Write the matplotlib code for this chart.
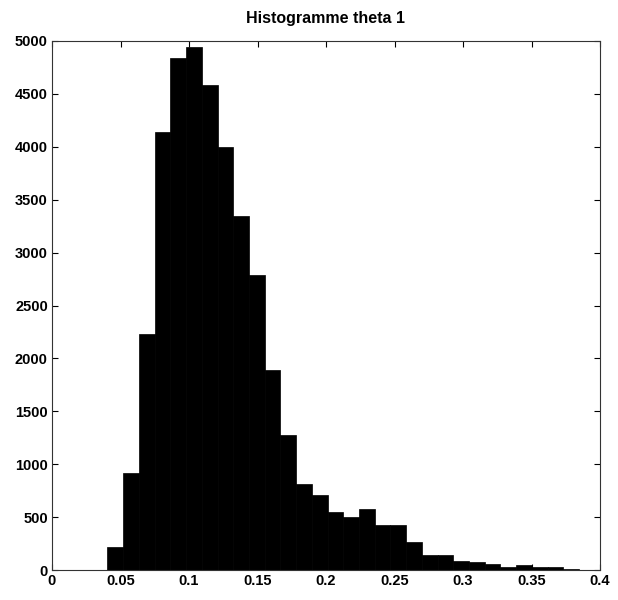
import numpy as np
import matplotlib
matplotlib.use("Agg")
import matplotlib.pyplot as plt

plt.rcParams['font.family'] = ['Liberation Sans', 'DejaVu Sans']

title = "Histogramme theta 1"
bin_lo = 0.0405
bin_hi = 0.3847
counts = [220, 920, 2230, 4140, 4840, 4945, 4580, 3995, 3350, 2790,
          1890, 1280, 815, 710, 545, 500, 575, 425, 425, 268,
          140, 140, 85, 72, 52, 30, 44, 30, 30, 14]
xticks = [0, 0.05, 0.1, 0.15, 0.2, 0.25, 0.3, 0.35, 0.4]
xticklabels = ["0", "0.05", "0.1", "0.15", "0.2", "0.25", "0.3", "0.35", "0.4"]
yticks = [0, 500, 1000, 1500, 2000, 2500, 3000, 3500, 4000, 4500, 5000]

edges = np.linspace(bin_lo, bin_hi, len(counts) + 1)

fig = plt.figure(figsize=(6.18, 6.0), dpi=100)
ax = fig.add_axes([52/618, 1 - 570/600, 548/618, 529/600])
ax.bar(edges[:-1], counts, width=np.diff(edges), align='edge',
       color='black', edgecolor='black', linewidth=0.5)
ax.set_xlim(0, 0.4)
ax.set_ylim(0, 5000)
ax.set_xticks(xticks)
ax.set_xticklabels(xticklabels)
ax.set_yticks(yticks)
ax.tick_params(direction='in', top=True, right=True, length=4, width=0.8,
               labelsize=10.5, pad=3)
for lab in ax.get_xticklabels() + ax.get_yticklabels():
    lab.set_fontweight('bold')
for s in ax.spines.values():
    s.set_linewidth(0.8)
    s.set_color('#333333')
ax.set_title(title, fontsize=11.5, fontweight='bold', pad=13)
fig.savefig("out.png", dpi=100)
